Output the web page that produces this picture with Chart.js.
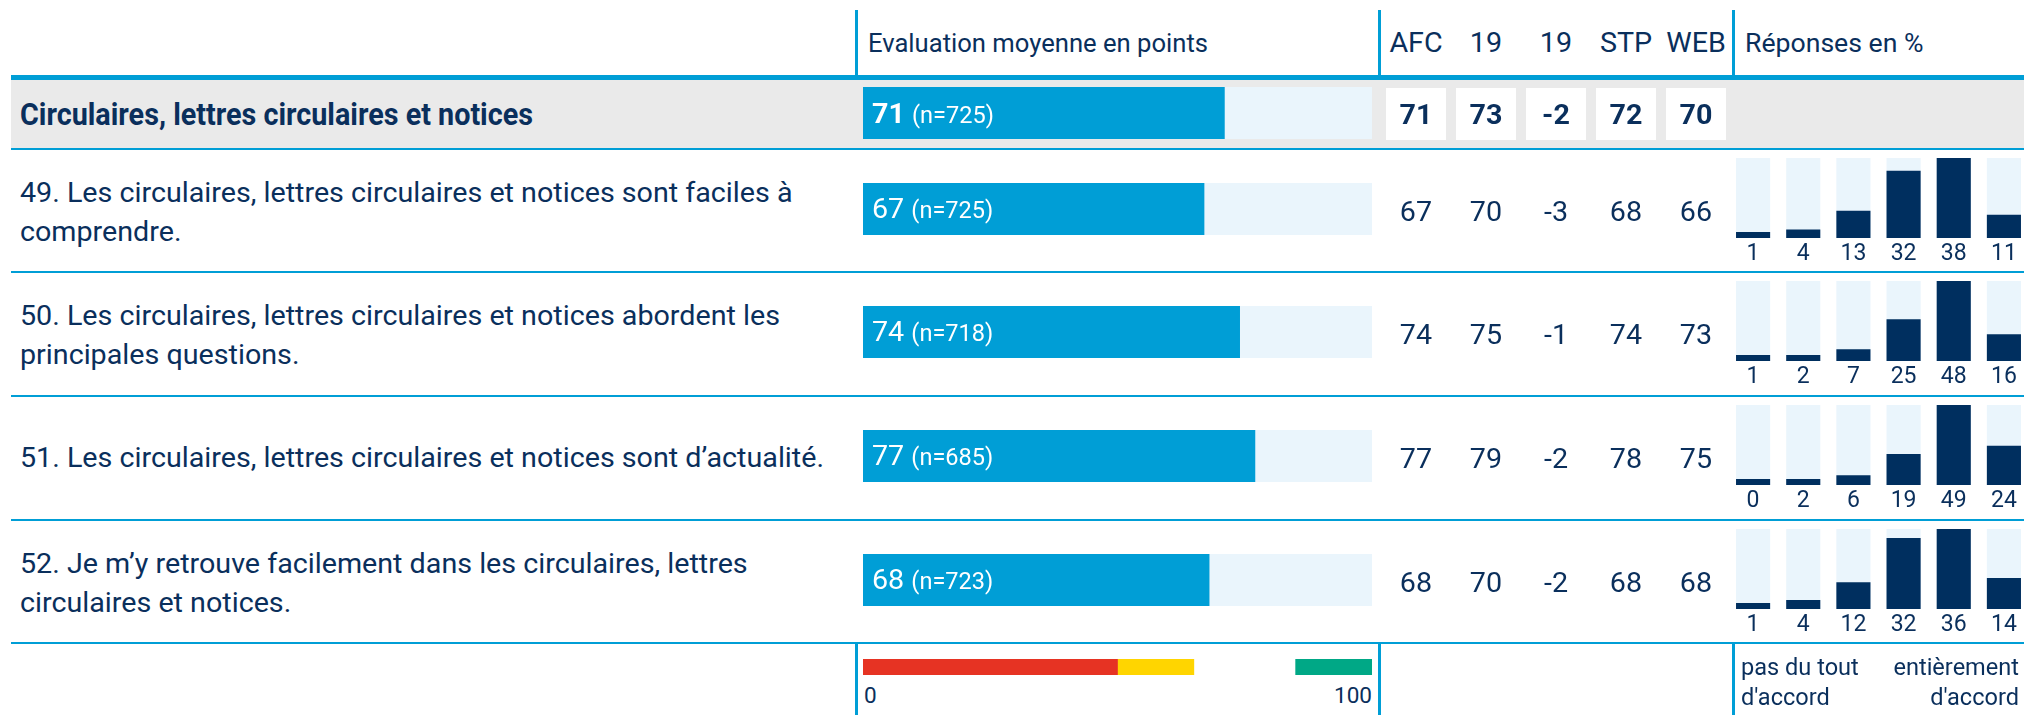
<!DOCTYPE html>
<html lang="fr">
<head>
<meta charset="utf-8">
<title>Circulaires, lettres circulaires et notices</title>
<script src="https://cdn.jsdelivr.net/npm/chart.js@4.4.1/dist/chart.umd.min.js"></script>
<style>
  html, body { margin: 0; padding: 0; }
  body { width: 2024px; height: 715px; overflow: hidden; background: #fff; position: relative;
         font-family: Roboto, "Noto Sans", sans-serif; color: #0a2f5c; }
  .blk { position: absolute; }
  .txt { position: absolute; white-space: nowrap; }
  canvas { position: absolute; }
</style>
</head>
<body>
<script>
// ---- data ----
const sectionTitle = 'Circulaires, lettres circulaires et notices';
const questions = [
    ['49. Les circulaires, lettres circulaires et notices sont faciles à', 'comprendre.'],
    ['50. Les circulaires, lettres circulaires et notices abordent les', 'principales questions.'],
    ['51. Les circulaires, lettres circulaires et notices sont d’actualité.'],
    ['52. Je m’y retrouve facilement dans les circulaires, lettres', 'circulaires et notices.'],
];
// index 0 = section total, then questions 49..52
const meanScores  = [71, 67, 74, 77, 68];
const sampleSizes = [725, 725, 718, 685, 723];
const compareHeads = ['AFC', '19', '19', 'STP', 'WEB'];
const afcValues  = [71, 67, 74, 77, 68];
const y19Values  = [73, 70, 75, 79, 70];
const diffValues = [-2, -3, -1, -2, -2];
const stpValues  = [72, 68, 74, 78, 68];
const webValues  = [70, 66, 73, 75, 68];
const answerLevels = ['1', '2', '3', '4', '5', '6'];
const answers49 = [1, 4, 13, 32, 38, 11];
const answers50 = [1, 2, 7, 25, 48, 16];
const answers51 = [0, 2, 6, 19, 49, 24];
const answers52 = [1, 4, 12, 32, 36, 14];
const scaleBands = [[0, 50], [50, 65], [85, 100]];
const bandColors = ['#e63323', '#ffd500', '#00a886'];

const compareCols = [afcValues, y19Values, diffValues, stpValues, webValues];
const answerRows = [answers49, answers50, answers51, answers52];

// ---- layout ----
const C = { blue: '#009ed6', light: '#eaf5fc', navy: '#002f5f', text: '#0a2f5c', gray: '#eaeaea' };
const LEFT = 11, EVAL_X = 863, EVAL_W = 509;
const COL_X = [1416, 1486, 1556, 1626, 1696];
const RESP_X = 1728, RESP_W = 301;
const V_LINES = [855, 1378, 1732];
const lineY = [148, 271, 395, 519, 642];

// reference font is condensed, squeeze Roboto to the same widths
const mctx = document.createElement('canvas').getContext('2d');
mctx.font = '28px Roboto';
const K = 804 / mctx.measureText(questions[2][0]).width;
mctx.font = 'bold 31px Roboto';
const KB = 513 / mctx.measureText(sectionTitle).width;

function rect(x, y, w, h, bg) {
    const el = document.createElement('div');
    el.className = 'blk';
    Object.assign(el.style, { left: x + 'px', top: y + 'px', width: w + 'px', height: h + 'px', background: bg });
    document.body.appendChild(el);
}

function label(str, x, y, o = {}) {
    const size = o.size || 28, align = o.align || 'left';
    const H = Math.round(size * 1.3), W = 1000;
    const el = document.createElement('div');
    el.className = 'txt';
    if (o.html) el.innerHTML = str; else el.textContent = str;
    const left = align === 'left' ? x : align === 'right' ? x - W : x - W / 2;
    Object.assign(el.style, {
        left: left + 'px', top: (y - H / 2) + 'px', width: W + 'px', height: H + 'px',
        lineHeight: H + 'px', fontSize: size + 'px', fontWeight: o.weight || 400,
        color: o.color || C.text, textAlign: align,
        transform: `scaleX(${o.k ?? K})`,
        transformOrigin: align === 'left' ? 'left center' : align === 'right' ? 'right center' : 'center center',
    });
    document.body.appendChild(el);
}

function makeCanvas(x, y, w, h) {
    const cv = document.createElement('canvas');
    cv.width = w; cv.height = h;
    Object.assign(cv.style, { left: x + 'px', top: y + 'px', width: w + 'px', height: h + 'px' });
    document.body.appendChild(cv);
    return cv;
}

Chart.defaults.animation = false;
Chart.defaults.responsive = false;
Chart.defaults.events = [];
Chart.defaults.plugins.legend.display = false;
Chart.defaults.plugins.tooltip.enabled = false;
Chart.defaults.font.family = 'Roboto, sans-serif';

function evalChart(cv, score) {
    return new Chart(cv, {
        type: 'bar',
        data: {
            labels: [''],
            datasets: [
                { data: [score], backgroundColor: C.blue, grouped: false, barPercentage: 1, categoryPercentage: 1 },
                { data: [100], backgroundColor: C.light, grouped: false, barPercentage: 1, categoryPercentage: 1 },
            ],
        },
        options: {
            indexAxis: 'y',
            layout: { padding: 0 },
            scales: { x: { display: false, min: 0, max: 100 }, y: { display: false } },
        },
    });
}

function answerChart(cv, vals) {
    const top = Math.max(...vals);
    return new Chart(cv, {
        type: 'bar',
        data: {
            labels: answerLevels,
            datasets: [
                { data: vals, backgroundColor: C.navy, grouped: false, barPercentage: 0.68, categoryPercentage: 1, minBarLength: 6 },
                { data: vals.map(() => top), backgroundColor: C.light, grouped: false, barPercentage: 0.68, categoryPercentage: 1 },
            ],
        },
        options: {
            layout: { padding: 0 },
            scales: {
                y: { display: false, min: 0, max: top },
                x: {
                    grid: { display: false, drawTicks: false },
                    border: { display: false },
                    ticks: { color: C.text, font: { size: 23 }, padding: 2, maxRotation: 0, autoSkip: false,
                             callback: (v, i) => vals[i] },
                    afterFit: (s) => { s.height = 30; },
                },
            },
        },
    });
}

// ---- header ----
V_LINES.forEach(x => rect(x, 10, 3, 66, C.blue));
label('Evaluation moyenne en points', 868, 43, { size: 25 });
compareHeads.forEach((h, i) => label(h, COL_X[i], 43, { size: 28, align: 'center' }));
label('Réponses en %', 1745, 43, { size: 26 });
rect(LEFT, 75, 2024 - LEFT, 5, C.blue);

// ---- section row ----
rect(LEFT, 80, 2024 - LEFT, lineY[0] - 80, C.gray);
label(sectionTitle, 20, 115, { size: 31, weight: 700, k: KB });
evalChart(makeCanvas(EVAL_X, 87, EVAL_W, 52), meanScores[0]);
label(`<b style="font-size:28px">${meanScores[0]}</b> <span style="font-size:23px">(n=${sampleSizes[0]})</span>`,
      872, 114, { size: 28, color: '#fff', html: true });
compareCols.forEach((col, i) => {
    rect(COL_X[i] - 30, 88, 60, 52, '#fff');
    label(String(col[0]), COL_X[i], 115, { size: 28, weight: 700, align: 'center' });
});

// ---- question rows ----
lineY.forEach(y => rect(LEFT, y, 2024 - LEFT, 2, C.blue));
questions.forEach((lines, q) => {
    const top = lineY[q] + 2, mid = (top + lineY[q + 1]) / 2;
    const r = q + 1;
    if (lines.length === 1) label(lines[0], 20, mid, { size: 28 });
    else lines.forEach((ln, j) => label(ln, 20, mid - 18 + j * 39, { size: 28 }));

    evalChart(makeCanvas(EVAL_X, top + 33, EVAL_W, 52), meanScores[r]);
    label(`<span style="font-size:28px">${meanScores[r]}</span> <span style="font-size:23px">(n=${sampleSizes[r]})</span>`,
          872, top + 59, { size: 28, color: '#fff', html: true });

    compareCols.forEach((col, i) => label(String(col[r]), COL_X[i], mid + 1, { size: 28, align: 'center' }));

    answerChart(makeCanvas(RESP_X, top + 8, RESP_W, 110), answerRows[q]);
});

// ---- footer: colour scale + answer scale ----
V_LINES.forEach(x => rect(x, lineY[4] + 2, 3, 715 - lineY[4] - 2, C.blue));
new Chart(makeCanvas(EVAL_X, 659, EVAL_W, 16), {
    type: 'bar',
    data: {
        labels: [''],
        datasets: scaleBands.map((b, i) => ({
            data: [b], backgroundColor: bandColors[i], grouped: false, barPercentage: 1, categoryPercentage: 1,
        })),
    },
    options: {
        indexAxis: 'y',
        layout: { padding: 0 },
        scales: { x: { display: false, min: 0, max: 100 }, y: { display: false } },
    },
});
label('0', 864, 695, { size: 22 });
label('100', 1372, 695, { size: 22, align: 'right' });
label('pas du tout', 1741, 668, { size: 23 });
label('d\'accord', 1741, 698, { size: 23 });
label('entièrement', 2019, 668, { size: 23, align: 'right' });
label('d\'accord', 2019, 698, { size: 23, align: 'right' });
</script>
</body>
</html>
